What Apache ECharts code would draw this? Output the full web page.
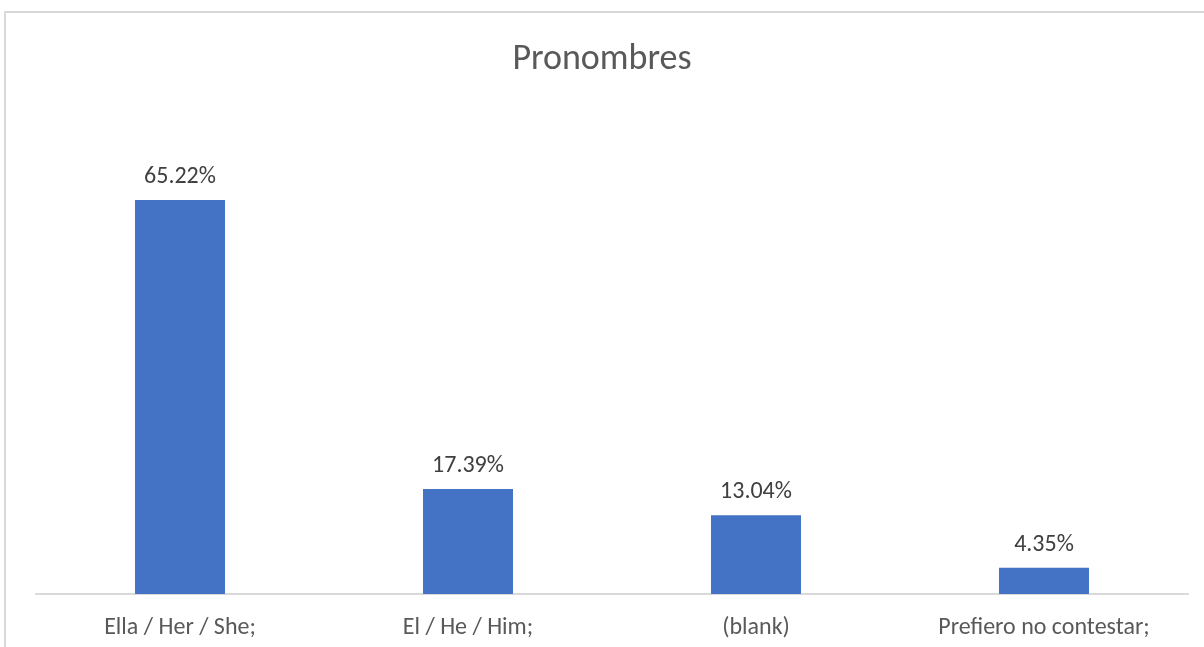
<!DOCTYPE html>
<html>
<head>
<meta charset="utf-8">
<script src="https://cdn.jsdelivr.net/npm/echarts@6/dist/echarts.min.js"></script>
<style>
html,body{margin:0;padding:0;background:#fff;}
#c{width:1204px;height:647px;}
</style>
</head>
<body>
<div id="c"></div>
<script>
const categories = ["Ella / Her / She;", "El / He / Him;", "(blank)", "Prefiero no contestar;"];
const values = [65.22, 17.39, 13.04, 4.35];

const FONT = 'Carlito, Lato, sans-serif';
const chart = echarts.init(document.getElementById('c'));
chart.setOption({
  animation: false,
  backgroundColor: '#fff',
  title: {
    text: 'Pronombres',
    left: 'center',
    top: 37,
    textStyle: {fontFamily: FONT, fontSize: 36, fontWeight: 'normal', color: '#595959'}
  },
  graphic: [{
    type: 'rect',
    shape: {x: 5, y: 12, width: 1250, height: 700},
    style: {fill: 'none', stroke: '#d9d9d9', lineWidth: 2},
    silent: true
  }],
  grid: {left: 36, right: 16, top: 171, bottom: 53},
  xAxis: {
    type: 'category',
    data: categories,
    axisLine: {lineStyle: {color: '#d9d9d9', width: 2}},
    axisTick: {show: false},
    axisLabel: {fontFamily: FONT, fontSize: 24, color: '#595959', margin: 22}
  },
  yAxis: {
    type: 'value',
    min: 0, max: 70,
    show: false,
    splitLine: {show: false}
  },
  series: [{
    type: 'bar',
    data: values,
    barWidth: 90,
    itemStyle: {color: '#4472C4'},
    label: {
      show: true,
      position: 'top',
      distance: 11,
      formatter: p => p.value.toFixed(2) + '%',
      fontFamily: FONT, fontSize: 24, color: '#404040'
    }
  }]
});
</script>
</body>
</html>
